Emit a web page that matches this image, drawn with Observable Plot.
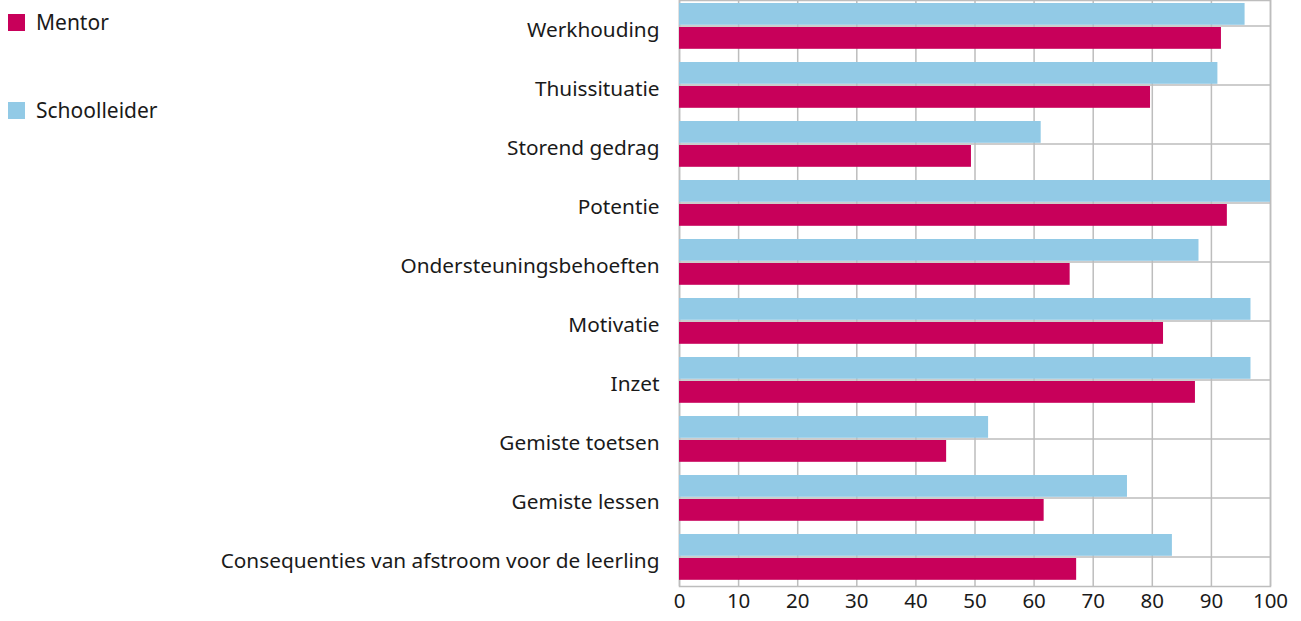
<!DOCTYPE html>
<html>
<head>
<meta charset="utf-8">
<script src="https://cdn.jsdelivr.net/npm/d3@7"></script>
<script src="https://cdn.jsdelivr.net/npm/@observablehq/plot@0.6"></script>
<style>
  html, body { margin: 0; padding: 0; background: #fff; }
  body { width: 1301px; height: 621px; position: relative; overflow: hidden; font-family: "Noto Sans", sans-serif; }
  #chart { position: absolute; left: 0; top: 0; }
  .legend { position: absolute; left: 8px; font-size: 21px; line-height: 29px; color: #1a1a1a; display: flex; align-items: center; }
  .legend .sw { width: 17px; height: 17px; margin-right: 11px; }
</style>
</head>
<body>
<div id="chart"></div>
<div class="legend" style="top:8px"><div class="sw" style="background:#c8005a"></div><span>Mentor</span></div>
<div class="legend" style="top:96px"><div class="sw" style="background:#92cae6"></div><span>Schoolleider</span></div>
<script>
const categories = [
  "Werkhouding",
  "Thuissituatie",
  "Storend gedrag",
  "Potentie",
  "Ondersteuningsbehoeften",
  "Motivatie",
  "Inzet",
  "Gemiste toetsen",
  "Gemiste lessen",
  "Consequenties van afstroom voor de leerling"
];
const mentor =       [91.7, 79.7, 49.4, 92.7, 66.1, 81.9, 87.3, 45.2, 61.7, 67.2];
const schoolleider = [95.7, 91.1, 61.2, 100,  87.9, 96.7, 96.7, 52.3, 75.8, 83.4];
const xTicks = [0, 10, 20, 30, 40, 50, 60, 70, 80, 90, 100];

const mentorData = categories.map((c, i) => ({category: c, value: mentor[i]}));
const schoolData = categories.map((c, i) => ({category: c, value: schoolleider[i]}));

const grid = "#bdbdbd";
const chart = Plot.plot({
  width: 1301,
  height: 621,
  marginLeft: 679,
  marginRight: 31,
  marginTop: 0,
  marginBottom: 35,
  style: {fontFamily: "Noto Sans, sans-serif", fontSize: "20px", color: "#1a1a1a", background: "white"},
  x: {domain: [0, 100], ticks: xTicks, label: null, tickSize: 0, tickPadding: 8, tickFormat: d => String(d)},
  y: {domain: categories, range: [-3.8, 586.2], padding: 0, label: null, tickSize: 0, tickPadding: 20},
  marks: [
    Plot.ruleX(xTicks, {stroke: grid, strokeWidth: 1.5}),
    Plot.ruleY(categories, {y: d => d, stroke: grid, strokeWidth: 1.5}),
    Plot.frame({stroke: grid, strokeWidth: 1.5}),
    Plot.barX(schoolData, {y: "category", x: "value", fill: "#92cae6", insetTop: 7, insetBottom: 30.2}),
    Plot.barX(mentorData, {y: "category", x: "value", fill: "#c8005a", insetTop: 31, insetBottom: 6.2}),
    Plot.axisX({ticks: xTicks, tickSize: 0, tickPadding: 7, label: null, fontSize: 20.5}),
    Plot.axisY({tickSize: 0, tickPadding: 20, label: null, fontSize: 20.8, dy: 4})
  ]
});
document.getElementById("chart").appendChild(chart);
</script>
</body>
</html>
